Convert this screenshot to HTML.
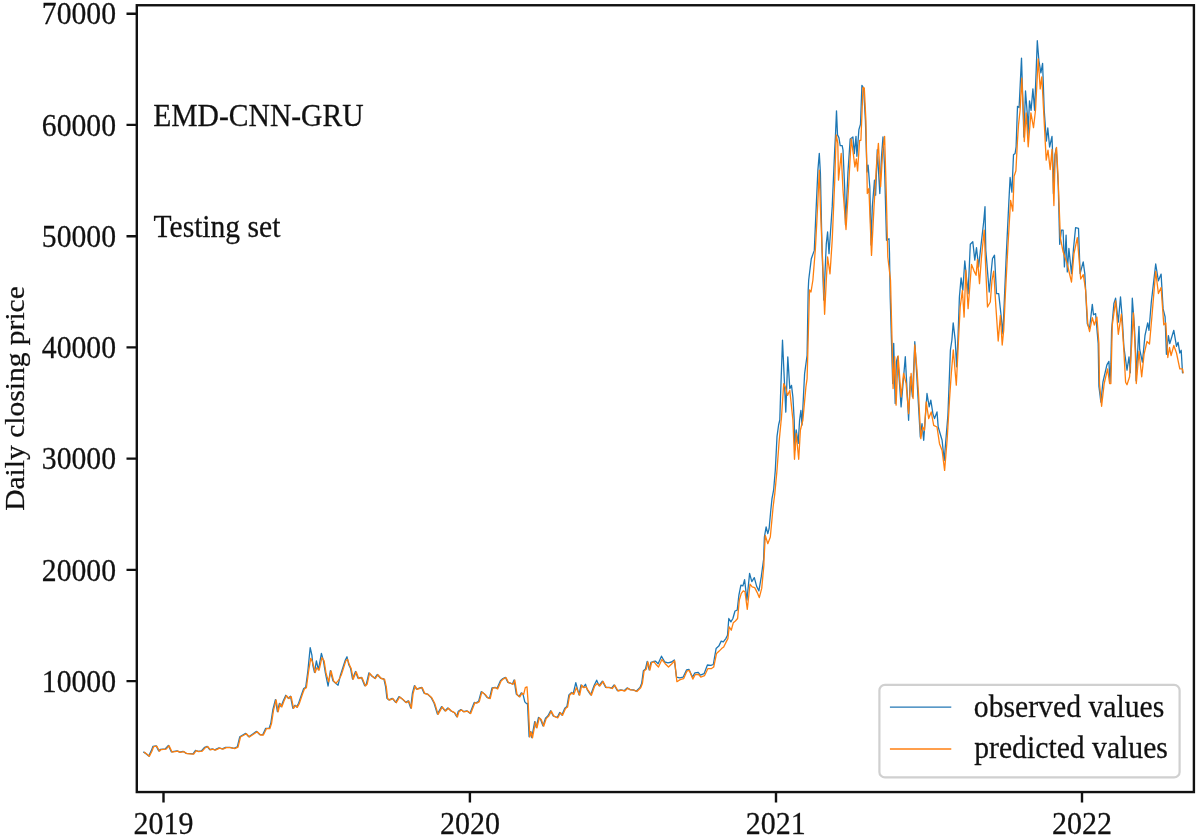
<!DOCTYPE html>
<html><head><meta charset="utf-8">
<style>
html,body{margin:0;padding:0;background:#fff;}
svg{display:block;}
text{font-family:"Liberation Serif",serif;fill:#111;stroke:#111;stroke-width:0.25px;}
</style></head>
<body>
<svg width="1200" height="837" viewBox="0 0 1200 837">
<rect width="1200" height="837" fill="#fff"/>
<defs><filter id="soft" filterUnits="userSpaceOnUse" x="0" y="0" width="1200" height="837"><feGaussianBlur stdDeviation="0.45"/></filter><filter id="soft2" filterUnits="userSpaceOnUse" x="0" y="0" width="1200" height="837"><feGaussianBlur stdDeviation="0.7"/></filter></defs>
<!--CURVES_START-->
<g fill="none" stroke-linejoin="round" stroke-linecap="round" stroke-width="1.3" filter="url(#soft)">
<path stroke="#1f77b4" d="M143.7 752.1L145.7 753.4L148.7 756.0L151.2 750.9L152.9 746.4L156.2 745.9L158.7 750.9L160.4 749.3L165.4 748.8L168.4 745.4L171.3 751.8L177.1 750.9L179.6 752.1L183.0 751.3L186.3 753.4L193.0 753.8L195.5 750.4L198.0 751.3L201.4 750.9L204.7 747.3L207.2 746.3L209.7 749.6L212.2 748.9L214.7 749.8L218.9 747.9L222.3 748.9L225.6 747.3L229.8 747.3L234.0 748.4L237.3 746.8L239.8 736.7L245.7 733.4L248.7 736.7L252.4 734.2L256.5 731.4L259.9 734.7L262.7 734.7L265.7 728.4L269.1 728.4L270.8 723.3L272.8 710.0L275.4 699.6L277.4 711.6L279.4 703.3L281.1 706.6L283.3 700.8L285.8 695.3L288.3 698.3L290.5 696.3L292.8 708.0L295.0 705.3L296.7 707.0L296.8 706.6L298.6 703.3L302.0 693.2L303.7 688.6L305.7 687.4L307.8 671.5L310.2 647.6L311.9 655.1L312.9 665.7L314.5 672.3L316.4 660.9L318.4 669.8L321.4 653.4L323.4 660.6L325.4 673.2L328.1 686.0L330.4 670.7L332.9 680.7L335.4 682.9L338.1 685.2L340.5 674.9L343.0 667.3L345.1 660.6L347.0 656.8L348.8 664.8L350.5 668.2L352.5 679.0L355.5 671.5L358.0 678.2L361.4 677.4L364.7 685.7L366.4 684.0L368.9 672.8L371.4 675.7L374.7 678.2L377.2 674.5L380.6 678.2L383.9 679.0L385.6 686.6L386.9 698.3L388.9 699.9L392.3 698.3L395.6 702.4L399.0 696.6L402.3 699.1L405.7 702.4L408.2 700.8L410.7 708.0L412.4 693.2L414.4 685.7L416.5 689.1L419.9 687.9L421.6 687.4L424.1 693.2L427.4 694.1L431.1 697.4L434.1 703.3L437.4 714.1L441.6 706.6L445.0 710.8L447.8 708.0L450.8 710.8L454.2 712.5L456.7 716.7L458.3 711.3L460.9 709.6L463.4 711.6L466.7 710.8L470.0 713.3L474.2 702.4L476.1 702.9L478.6 701.3L481.2 691.6L484.5 694.1L487.0 697.4L489.5 698.3L492.0 687.9L495.4 687.4L497.0 688.6L500.4 680.7L502.9 678.5L505.4 677.4L507.9 682.4L510.4 683.2L512.4 684.0L514.1 679.9L516.3 694.1L519.1 696.6L521.3 692.9L523.0 694.1L524.8 701.9L526.5 703.6L527.5 703.3L529.1 736.7L530.5 731.7L531.8 737.6L534.7 721.7L536.3 727.5L538.5 717.5L540.5 719.2L543.0 725.9L545.5 718.3L548.0 715.8L550.6 710.8L553.1 715.8L557.2 717.5L559.7 712.5L561.9 715.0L564.8 708.3L566.9 706.6L568.9 694.9L571.5 692.4L573.1 694.1L575.8 682.7L579.0 694.9L581.0 684.9L583.2 687.4L585.5 684.3L587.3 689.9L590.7 694.9L594.0 685.7L596.7 680.2L599.0 685.7L602.4 681.2L605.7 687.4L609.1 687.4L611.6 688.2L614.1 684.9L617.4 690.7L620.8 689.9L624.1 690.7L627.1 687.9L630.0 689.6L633.3 689.9L636.2 691.2L640.0 687.4L641.7 683.2L643.4 670.7L645.5 669.0L647.2 661.5L649.2 669.8L650.9 662.3L653.4 661.5L655.6 661.2L658.1 663.7L661.5 656.2L664.8 662.0L668.1 662.8L671.5 662.0L674.3 660.0L676.5 677.1L679.8 677.9L683.2 677.1L686.5 670.0L689.0 669.5L692.4 677.1L694.9 672.9L698.2 672.4L700.4 675.1L704.1 673.7L707.4 665.0L710.8 665.4L713.3 664.5L716.1 648.6L718.8 646.1L721.2 641.1L723.3 641.9L725.8 638.6L727.5 635.3L728.8 618.5L730.9 621.9L732.9 618.5L735.0 611.0L737.2 610.2L738.9 595.1L740.9 585.1L742.9 585.9L744.6 579.7L746.9 600.1L749.6 573.4L751.8 581.7L754.3 577.6L756.8 586.8L758.9 590.9L761.3 576.7L763.5 560.0L763.6 560.0L764.4 537.1L766.1 527.0L767.8 533.7L769.1 528.7L770.8 510.3L772.0 498.6L773.6 490.2L775.3 470.2L777.0 436.7L778.6 425.0L779.8 420.0L780.5 397.1L782.5 340.2L785.8 412.1L787.8 356.9L789.8 388.7L791.5 385.4L792.9 397.1L794.2 420.0L794.9 450.0L796.2 430.0L798.2 443.4L799.6 420.0L800.9 410.4L802.0 425.0L804.6 373.6L807.1 355.3L808.2 290.0L808.7 280.0L811.3 258.7L814.3 250.4L815.9 213.6L817.9 170.1L819.3 153.4L820.4 173.4L822.0 248.7L823.8 300.0L826.3 243.7L827.6 232.0L829.0 253.7L832.2 206.9L834.7 150.0L835.5 134.9L836.5 110.8L837.5 134.9L838.9 137.6L840.2 145.6L842.2 145.6L843.0 150.0L844.7 188.5L845.5 225.0L848.0 171.8L850.2 138.9L852.9 136.9L854.3 153.6L856.0 136.3L856.9 156.3L858.9 129.6L860.5 124.2L861.9 85.4L863.6 88.1L865.4 120.2L867.0 172.0L868.1 165.1L869.8 186.8L871.1 245.0L872.3 206.9L874.5 180.1L875.6 195.2L877.3 149.6L879.8 193.5L881.5 156.7L883.0 136.9L884.5 165.0L886.5 240.3L889.0 238.7L889.5 253.7L890.2 296.7L892.7 383.5L893.7 343.3L895.2 403.5L896.4 361.7L897.7 356.7L901.1 406.9L905.3 356.7L908.6 420.3L910.3 376.8L912.5 396.9L914.8 341.7L917.8 393.5L920.3 437.0L922.0 423.6L923.7 440.3L927.0 393.5L929.2 406.9L930.8 400.2L932.9 413.6L934.5 418.6L937.0 411.9L938.2 427.0L942.1 440.3L944.2 460.4L947.9 415.3L950.4 350.0L951.9 340.0L953.2 322.9L955.2 340.0L956.6 366.8L957.9 340.0L959.4 297.0L961.1 277.8L962.8 290.3L964.8 261.0L968.1 293.6L970.3 244.3L972.8 241.8L974.8 260.2L976.5 247.7L978.6 266.9L981.2 243.5L983.7 221.7L985.0 206.7L985.8 250.2L989.2 292.0L992.5 258.5L994.5 255.2L996.5 293.6L998.7 293.6L1000.9 313.7L1002.9 333.8L1006.2 256.9L1008.7 205.0L1010.1 177.5L1011.9 192.2L1013.5 154.8L1015.1 153.4L1016.1 146.8L1017.5 106.3L1019.1 107.6L1021.5 58.1L1023.1 110.3L1023.9 137.0L1025.5 90.9L1027.5 117.0L1027.9 137.0L1029.5 100.9L1031.1 110.3L1032.9 88.9L1034.6 110.3L1036.2 70.1L1037.3 40.7L1038.9 60.8L1040.9 72.8L1042.6 63.4L1044.2 110.3L1046.4 141.0L1047.8 128.0L1049.6 147.0L1052.0 136.5L1052.9 162.8L1053.4 193.6L1054.9 154.8L1056.3 148.1L1058.3 186.9L1059.7 244.3L1061.4 230.1L1063.1 230.1L1064.4 266.9L1066.1 235.1L1067.3 271.9L1068.9 248.5L1071.5 273.6L1073.5 248.5L1075.6 227.6L1078.5 228.4L1080.1 273.6L1083.2 261.9L1084.8 273.6L1087.3 323.7L1089.5 328.8L1092.3 304.3L1093.5 314.8L1095.6 313.6L1098.2 343.6L1098.9 386.2L1100.9 402.2L1102.9 382.2L1106.9 364.8L1108.9 361.4L1110.0 382.0L1110.9 363.4L1111.6 330.3L1113.9 303.5L1115.6 298.2L1118.3 322.2L1120.5 296.8L1122.3 319.6L1123.9 347.0L1127.0 370.1L1129.0 356.8L1130.3 372.8L1132.3 298.2L1134.3 324.9L1135.7 354.3L1136.1 380.8L1139.0 326.3L1139.7 349.5L1142.4 362.1L1145.0 335.5L1147.7 322.9L1149.0 330.3L1151.3 302.2L1155.7 264.0L1158.4 280.8L1161.1 274.1L1163.1 308.9L1165.1 316.9L1166.4 354.3L1168.4 335.6L1169.8 343.6L1173.8 330.3L1176.5 346.3L1178.1 342.3L1179.8 353.0L1181.2 350.3L1182.5 372.8"/>
<path stroke="#ff7f0e" d="M144.4 752.4L146.4 753.7L149.4 756.3L151.9 751.2L153.6 746.7L156.9 746.2L159.4 751.2L161.1 749.6L166.1 749.1L169.1 745.7L172.0 752.1L177.8 751.2L180.3 752.4L183.7 751.6L187.0 753.7L193.7 754.1L196.2 750.7L198.7 751.6L202.1 751.2L205.4 747.6L207.9 746.6L210.4 749.9L212.9 749.2L215.4 750.1L219.6 748.2L223.0 749.2L226.3 747.6L230.5 747.6L234.7 748.7L238.0 747.1L240.5 737.0L246.4 733.7L249.4 737.0L253.1 734.5L257.2 731.7L260.6 735.0L263.4 735.0L266.4 728.7L269.8 728.7L271.5 723.6L273.5 710.3L276.1 699.9L278.1 711.9L280.1 703.6L281.8 706.9L284.0 701.1L286.5 695.6L289.0 698.6L291.2 696.6L293.5 708.3L295.7 705.6L297.4 707.3L297.5 706.9L299.3 703.6L302.7 693.5L304.4 688.9L306.4 687.7L308.5 671.8L310.7 658.4L312.4 661.8L313.6 666.0L315.2 672.6L316.9 667.6L319.1 670.1L321.9 657.6L324.1 660.9L326.1 673.5L328.6 681.8L331.1 671.0L333.6 681.0L336.1 683.2L338.6 680.2L341.2 675.2L343.7 667.6L345.8 660.9L347.5 659.3L349.5 665.1L351.2 668.5L353.2 679.3L356.2 671.8L358.7 678.5L362.1 677.7L365.4 686.0L367.1 684.3L369.6 673.1L372.1 676.0L375.4 678.5L377.9 674.8L381.3 678.5L384.6 679.3L386.3 686.9L387.6 698.6L389.6 700.2L393.0 698.6L396.3 702.7L399.7 696.9L403.0 699.4L406.4 702.7L408.9 701.1L411.4 708.3L413.1 693.5L415.1 686.0L417.2 689.4L420.6 688.2L422.3 687.7L424.8 693.5L428.1 694.4L431.8 697.7L434.8 703.6L438.1 714.4L442.3 706.9L445.7 711.1L448.5 708.3L451.5 711.1L454.9 712.8L457.4 717.0L459.0 711.6L461.6 709.9L464.1 711.9L467.4 711.1L470.7 713.6L474.9 702.7L476.8 703.2L479.3 701.6L481.9 691.9L485.2 694.4L487.7 697.7L490.2 698.6L492.7 688.2L496.1 687.7L497.7 688.9L501.1 681.0L503.6 678.8L506.1 677.7L508.6 682.7L511.1 683.5L513.1 684.3L514.8 680.2L517.0 694.4L519.8 696.9L522.0 693.2L523.7 694.4L525.3 687.7L527.0 686.9L528.2 703.6L529.8 737.0L531.2 732.0L532.5 737.9L535.4 722.0L537.0 727.8L539.2 717.8L541.2 719.5L543.7 726.2L546.2 718.6L548.7 716.1L551.3 711.1L553.8 716.1L557.9 717.8L560.4 712.8L562.6 715.3L565.5 708.6L567.6 706.9L569.6 695.2L572.2 692.7L573.8 694.4L576.3 687.7L579.7 695.2L581.7 685.2L583.9 687.7L586.0 686.9L588.0 690.2L591.4 695.2L594.7 686.0L597.2 683.5L599.7 686.0L603.1 681.5L606.4 687.7L609.8 687.7L612.3 688.5L614.8 685.2L618.1 691.0L621.5 690.2L624.8 691.0L627.8 688.2L630.7 689.9L634.0 690.2L636.9 691.5L640.7 687.7L642.4 683.5L644.1 671.0L646.2 669.3L647.9 661.8L649.9 670.1L651.6 662.6L654.1 661.8L656.0 664.5L658.5 667.0L661.9 659.5L665.2 663.7L668.5 667.0L671.9 663.7L674.7 660.8L676.9 681.7L680.2 679.6L683.6 678.7L686.9 671.2L689.4 670.4L692.8 679.1L695.3 674.5L698.6 674.5L700.8 677.1L704.5 675.7L707.8 668.7L711.2 668.7L713.7 667.0L716.5 653.6L719.2 651.1L721.6 648.6L723.7 647.0L726.2 641.9L727.9 638.6L729.2 626.9L731.3 630.2L733.3 622.7L735.4 621.0L737.6 618.5L739.3 600.1L741.3 593.4L743.3 590.9L745.0 591.8L747.3 609.3L750.0 584.2L752.2 586.8L754.7 587.6L757.2 592.6L759.3 597.6L761.7 588.4L763.9 565.0L764.0 560.0L765.3 535.4L767.8 543.7L770.3 537.1L773.1 507.0L774.8 493.6L777.0 470.2L779.1 441.7L781.2 420.0L781.3 420.0L783.7 383.7L785.3 387.0L787.5 395.4L789.8 390.4L792.9 420.0L794.5 459.3L796.2 433.4L798.7 459.3L800.4 430.0L802.9 420.0L805.9 387.0L807.1 378.7L809.5 290.0L811.0 292.0L812.9 280.0L815.4 248.7L817.6 206.9L819.3 170.1L820.4 206.9L822.1 248.7L823.4 280.0L824.6 314.3L826.3 280.0L827.6 257.0L830.0 273.8L832.2 240.3L834.7 181.8L836.2 134.9L837.8 143.0L838.5 180.1L841.2 153.5L843.0 190.2L846.0 229.5L848.4 190.2L851.2 138.9L853.3 153.6L854.9 167.0L856.3 159.0L857.6 171.0L859.6 140.3L860.9 140.3L863.0 87.4L864.3 88.1L865.9 120.2L867.3 193.5L868.9 188.5L871.5 255.4L874.0 206.9L876.5 165.1L878.4 143.4L880.6 186.8L882.8 150.0L884.6 136.3L886.2 190.2L887.8 257.0L890.5 280.0L891.9 335.0L893.1 388.5L894.7 356.7L896.1 405.2L898.1 355.9L901.1 396.9L903.6 373.4L906.1 383.5L908.6 413.6L911.1 373.4L913.1 398.5L914.8 345.0L917.0 370.1L918.6 395.2L920.8 438.7L922.8 427.0L924.5 430.3L926.2 401.9L928.7 418.6L931.2 411.9L933.7 425.3L937.0 427.0L939.5 443.7L942.1 450.4L944.6 470.4L947.1 440.3L949.6 398.5L951.3 373.4L953.3 350.0L956.3 385.2L958.5 340.0L960.2 307.0L962.4 290.3L964.1 317.1L965.8 270.2L968.1 308.7L971.5 264.4L974.1 271.1L976.1 275.3L977.5 259.4L979.5 283.6L981.5 256.9L984.2 230.1L985.8 270.2L987.5 307.0L990.3 302.0L992.0 280.3L993.7 271.1L995.9 307.0L998.2 341.0L1000.4 315.4L1002.2 345.0L1003.7 330.4L1005.4 293.6L1007.9 246.8L1010.6 200.3L1012.8 211.0L1014.1 176.2L1015.9 170.8L1017.5 140.1L1018.5 125.0L1020.1 110.3L1021.8 78.2L1023.5 115.6L1024.3 141.5L1026.2 112.9L1028.2 146.8L1030.9 112.9L1033.5 127.7L1035.5 110.3L1038.2 58.8L1040.2 88.9L1041.8 76.8L1043.6 110.3L1046.2 160.1L1048.0 150.1L1050.2 169.5L1052.0 149.4L1053.9 205.6L1055.2 154.8L1056.5 147.4L1057.9 173.5L1060.4 238.0L1063.1 251.8L1067.1 263.5L1071.5 282.0L1074.0 253.5L1077.3 237.6L1080.7 279.0L1083.3 274.7L1085.6 290.0L1087.8 324.0L1089.6 331.5L1092.3 317.6L1094.3 325.0L1096.9 317.0L1098.9 343.6L1099.5 383.5L1101.6 406.3L1104.2 383.5L1107.6 368.8L1109.6 383.5L1110.9 383.5L1112.3 324.9L1115.6 300.8L1118.3 334.3L1121.4 314.2L1123.6 346.2L1125.6 382.2L1127.0 384.8L1129.6 376.8L1131.7 343.4L1133.4 312.9L1135.2 350.0L1136.3 383.5L1139.0 351.4L1141.7 376.8L1144.1 354.1L1147.0 341.5L1149.5 344.0L1152.1 314.2L1155.7 271.4L1158.4 293.5L1161.1 287.5L1163.8 324.9L1165.8 322.9L1167.8 357.5L1169.5 347.5L1171.1 355.5L1173.8 345.5L1176.5 353.0L1179.8 368.8L1182.5 368.8L1183.2 372.8"/>
</g>
<!--CURVES_END-->
<g stroke="#111" stroke-width="2.4" fill="none">
<rect x="136.8" y="5.25" width="1057.1" height="786.8"/>
<path d="M126.5 13.7H136.8M126.5 124.9H136.8M126.5 236.2H136.8M126.5 347.4H136.8M126.5 458.6H136.8M126.5 569.9H136.8M126.5 681.1H136.8"/>
<path d="M163.5 792V802.6M469.9 792V802.6M776 792V802.6M1082 792V802.6"/>
</g>
<g font-size="29.7" text-anchor="end">
<text transform="translate(116,24.1) scale(1,1.04)">70000</text>
<text transform="translate(116,135.5) scale(1,1.04)">60000</text>
<text transform="translate(116,246.9) scale(1,1.04)">50000</text>
<text transform="translate(116,358.3) scale(1,1.04)">40000</text>
<text transform="translate(116,469.3) scale(1,1.04)">30000</text>
<text transform="translate(116,580.5) scale(1,1.04)">20000</text>
<text transform="translate(116,691.5) scale(1,1.04)">10000</text>
</g>
<g font-size="30" text-anchor="middle">
<text transform="translate(163.6,833.5) scale(1,1.04)">2019</text>
<text transform="translate(469.9,833.5) scale(1,1.04)">2020</text>
<text transform="translate(775.8,833.5) scale(1,1.04)">2021</text>
<text transform="translate(1081.9,833.5) scale(1,1.04)">2022</text>
</g>
<text font-size="29.6" transform="translate(153.2,125.65) scale(1,1.055)">EMD-CNN-GRU</text>
<text font-size="29.6" transform="translate(153.5,236.6) scale(1,1.055)">Testing set</text>
<text font-size="28" text-anchor="middle" transform="translate(24.1,398.5) rotate(-90) scale(1.055,1)">Daily closing price</text>
<g>
<rect x="879.4" y="684.8" width="300.2" height="92.6" rx="5.5" ry="5.5" fill="#fff" fill-opacity="0.8" stroke="#d0d0d0" stroke-width="2.2" filter="url(#soft)"/>
<path d="M890.6 707.1H950.6" stroke="#1f77b4" stroke-width="1.35" stroke-linecap="square" filter="url(#soft2)"/>
<path d="M890.6 749H950.6" stroke="#ff7f0e" stroke-width="1.35" stroke-linecap="square" filter="url(#soft2)"/>
<text font-size="29.7" transform="translate(973.8,716.5) scale(1,1.055)">observed values</text>
<text font-size="29.7" transform="translate(974.2,758.2) scale(1,1.055)">predicted values</text>
</g>
</svg>
</body></html>
